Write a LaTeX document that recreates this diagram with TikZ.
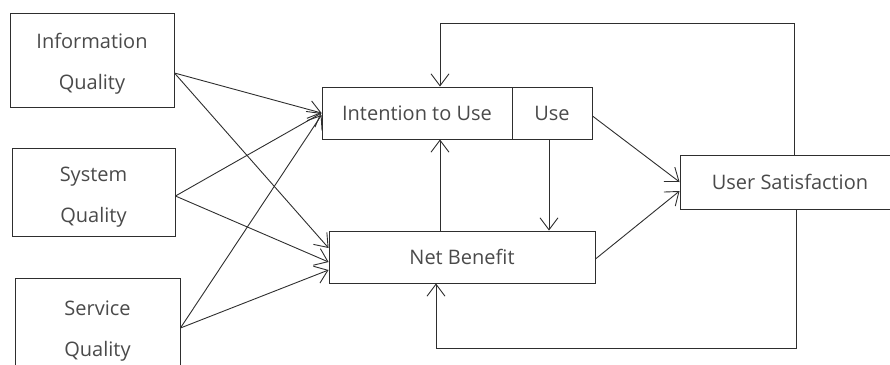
\documentclass[tikz,border=0pt]{standalone}
\usepackage{fontspec}
\setmainfont{Open Sans}
\usetikzlibrary{arrows.meta}

\definecolor{txtgray}{HTML}{4A4A4A}
\definecolor{linegray}{HTML}{2E2E2E}

% extra room above the first line of a box
\newcommand{\topgap}[1]{\rule{0pt}{#1}}

\tikzset{
    box/.style={draw=linegray, line width=0.9pt, rectangle, align=center, text=txtgray,
        font=\fontsize{20}{41}\selectfont, inner sep=0pt},
    arr/.style={draw=linegray, line width=0.9pt, -{Straight Barb[length=12pt,width=18pt]}}
}

\begin{document}
\begin{tikzpicture}[x=1pt, y=-1pt]
    \useasboundingbox (0,0) rectangle (890,364);

    % quality boxes on the left
    \node[box, minimum width=164pt, minimum height=94pt] (info) at (92,60) {\topgap{23pt}Information\\Quality};
    \node[box, minimum width=163pt, minimum height=88pt] (system) at (93.5,192) {\topgap{25pt}System\\Quality};
    \node[box, minimum width=165pt, minimum height=100pt] (service) at (97.5,328) {\topgap{21pt}Service\\Quality};

    % middle and right boxes
    \node[box, minimum width=190pt, minimum height=52pt] (intention) at (417,113) {Intention to Use};
    \node[box, minimum width=80pt, minimum height=52pt] (use) at (552,113) {Use};
    \node[box, minimum width=266pt, minimum height=52pt] (net) at (462,257) {Net Benefit};
    \node[box, minimum width=220pt, minimum height=54pt] (usersat) at (790,182) {User Satisfaction};

    % corners of the feedback lines
    \coordinate (tr) at (794,23);
    \coordinate (tl) at (440,23);
    \coordinate (br) at (796,348);
    \coordinate (bl) at (436,348);

    \draw[arr] ([yshift=-13pt]info.east) -- (intention.west);
    \draw[arr] ([yshift=-13pt]info.east) -- ([yshift=9pt]net.west);
    \draw[arr] ([yshift=-4pt]system.east) -- (intention.west);
    \draw[arr] ([yshift=-4pt]system.east) -- ([yshift=-5pt]net.west);
    \draw[arr] (service.east) -- ([yshift=-2pt]intention.west);
    \draw[arr] (service.east) -- ([yshift=-13pt]net.west);

    \draw[arr] ([yshift=-3pt]use.east) -- (usersat.west);
    \draw[arr] ([yshift=-2pt]net.east) -- ([yshift=-9pt]usersat.west);

    \draw[arr] (tl |- net.north) -- (tl |- intention.south);
    \draw[arr] ([xshift=-3pt]use.south) -- ([xshift=-3pt]use.south |- net.north);

    \draw[arr] (tr |- usersat.north) -- (tr) -- (tl) -- (tl |- intention.north);
    \draw[arr] (br |- usersat.south) -- (br) -- (bl) -- (bl |- net.south);
\end{tikzpicture}
\end{document}
